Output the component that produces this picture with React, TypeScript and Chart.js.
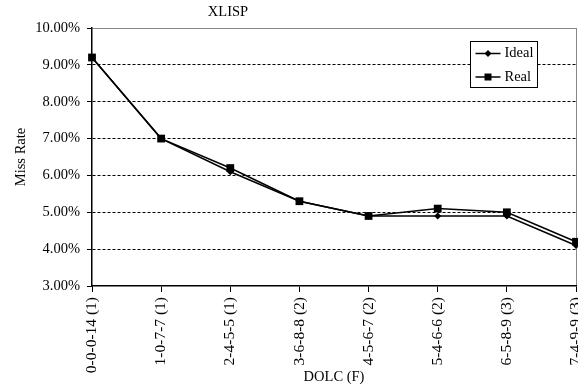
import React, { useEffect, useRef } from "react";
import { Chart, registerables } from "chart.js";

Chart.register(...registerables);

// Cache configurations on the x axis: D-O-L-C (F)
const categories = [
  "0-0-0-14 (1)",
  "1-0-7-7 (1)",
  "2-4-5-5 (1)",
  "3-6-8-8 (2)",
  "4-5-6-7 (2)",
  "5-4-6-6 (2)",
  "6-5-8-9 (3)",
  "7-4-9-9 (3)",
];

// Miss rates in percent
const idealMissRate = [9.2, 7.0, 6.1, 5.3, 4.9, 4.9, 4.9, 4.1];
const realMissRate = [9.2, 7.0, 6.2, 5.3, 4.9, 5.1, 5.0, 4.2];

const yMin = 3;
const yMax = 10;
const yStep = 1;

const chartTitle = "XLISP";
const xTitle = "DOLC (F)";
const yTitle = "Miss Rate";
const seriesNames = ["Ideal", "Real"];

const FONT = "'Liberation Serif', 'Times New Roman', serif";
const FONT_SIZE = 14.5;
const X_TICK_FONT_SIZE = 15.5;

// Draws the chart title above the plot
const titlePlugin = {
  id: "plotTitle",
  afterDraw(chart: any) {
    const { ctx, chartArea } = chart;
    ctx.save();
    ctx.font = `${FONT_SIZE}px ${FONT}`;
    ctx.fillStyle = "#000";
    ctx.textAlign = "center";
    ctx.textBaseline = "middle";
    ctx.fillText(chartTitle, chartArea.left + 136, chartArea.top - 15.5);
    ctx.restore();
  },
};

// Boxed legend in the upper-right corner of the plot
const boxLegendPlugin = {
  id: "boxLegend",
  afterDraw(chart: any) {
    const { ctx, chartArea } = chart;
    const x = chartArea.right - 105.5;
    const y = chartArea.top + 13.5;
    const w = 67;
    const h = 46;
    ctx.save();
    ctx.fillStyle = "#fff";
    ctx.fillRect(x, y, w, h);
    ctx.strokeStyle = "#000";
    ctx.lineWidth = 1;
    ctx.strokeRect(x, y, w, h);

    const rows = [y + 12, y + 35.5];
    chart.data.datasets.forEach((ds: any, i: number) => {
      const ry = rows[i];
      const lx1 = x + 5;
      const lx2 = x + 30;
      const mx = (lx1 + lx2) / 2;
      ctx.strokeStyle = "#000";
      ctx.lineWidth = 1.5;
      ctx.beginPath();
      ctx.moveTo(lx1, ry);
      ctx.lineTo(lx2, ry);
      ctx.stroke();
      ctx.fillStyle = "#000";
      ctx.beginPath();
      if (ds.pointStyle === "rectRot") {
        const r = 3.5;
        ctx.moveTo(mx, ry - r);
        ctx.lineTo(mx + r, ry);
        ctx.lineTo(mx, ry + r);
        ctx.lineTo(mx - r, ry);
        ctx.closePath();
      } else {
        const s = 3.5;
        ctx.rect(mx - s, ry - s, 2 * s, 2 * s);
      }
      ctx.fill();
      ctx.font = `${FONT_SIZE}px ${FONT}`;
      ctx.textAlign = "left";
      ctx.textBaseline = "middle";
      ctx.fillText(ds.label, x + 34, ry);
    });
    ctx.restore();
  },
};

export default function App() {
  const canvasRef = useRef<HTMLCanvasElement | null>(null);

  useEffect(() => {
    if (!canvasRef.current) return;
    const lastIndex = categories.length - 1;
    const chart = new Chart(canvasRef.current, {
      type: "line",
      data: {
        labels: categories,
        datasets: [
          {
            label: seriesNames[0],
            data: idealMissRate,
            borderColor: "#000",
            backgroundColor: "#000",
            borderWidth: 1.5,
            pointStyle: "rectRot",
            pointRadius: 3.5,
            pointBorderWidth: 0,
            pointBackgroundColor: "#000",
            tension: 0,
            order: 1,
          },
          {
            label: seriesNames[1],
            data: realMissRate,
            borderColor: "#000",
            backgroundColor: "#000",
            borderWidth: 1.5,
            pointStyle: "rect",
            pointRadius: 5.5,
            pointBorderWidth: 0,
            pointBackgroundColor: "#000",
            tension: 0,
            order: 0,
          },
        ],
      },
      options: {
        responsive: false,
        animation: false,
        events: [],
        clip: false,
        layout: { autoPadding: false, padding: { top: 28, right: 2, left: 0, bottom: 0 } },
        plugins: {
          legend: { display: false },
          title: { display: false },
          tooltip: { enabled: false },
        },
        scales: {
          x: {
            type: "category",
            offset: false,
            afterFit(scale: any) {
              scale.height = 101;
              // let the last rotated label run to the canvas edge
              scale.paddingLeft = 0;
              scale.paddingRight = 0;
            },
            grid: {
              display: true,
              drawOnChartArea: true,
              drawTicks: true,
              tickLength: 6,
              tickColor: "#000",
              tickWidth: 1,
              lineWidth: 1,
              color: (c: any) => (c.index === lastIndex ? "#888" : "rgba(0,0,0,0)"),
            },
            border: { display: true, color: "#000", width: 1.5 },
            ticks: {
              autoSkip: false,
              maxRotation: 90,
              minRotation: 90,
              padding: 5,
              color: "#000",
              font: { family: FONT, size: X_TICK_FONT_SIZE },
            },
            title: {
              display: true,
              text: xTitle,
              color: "#000",
              font: { family: FONT, size: FONT_SIZE },
              padding: { top: 0, bottom: 1.5 },
            },
          },
          y: {
            min: yMin,
            max: yMax,
            afterFit(scale: any) {
              scale.width = 92;
            },
            grid: {
              display: true,
              drawTicks: true,
              tickLength: 5,
              tickColor: "#000",
              tickWidth: 1,
              lineWidth: 1,
              color: (c: any) =>
                c.tick && c.tick.value === yMax
                  ? "#888"
                  : c.tick && c.tick.value === yMin
                  ? "rgba(0,0,0,0)"
                  : "#000",
            },
            border: {
              display: true,
              color: "#000",
              width: 1.5,
              dash: (c: any) => (c.tick && c.tick.value === yMax ? [] : [3, 2]),
            },
            ticks: {
              stepSize: yStep,
              padding: 7,
              color: "#000",
              font: { family: FONT, size: FONT_SIZE },
              callback: (v: any) => Number(v).toFixed(2) + "%",
            },
            title: {
              display: true,
              text: yTitle,
              color: "#000",
              font: { family: FONT, size: FONT_SIZE },
              padding: { top: 12, bottom: 0 },
            },
          },
        },
      },
      plugins: [titlePlugin, boxLegendPlugin],
    });
    return () => chart.destroy();
  }, []);

  return (
    <div style={{ position: "absolute", left: 0, top: 0, width: 578, height: 387, background: "#fff" }}>
      <canvas ref={canvasRef} width={578} height={387} style={{ display: "block" }} />
    </div>
  );
}
